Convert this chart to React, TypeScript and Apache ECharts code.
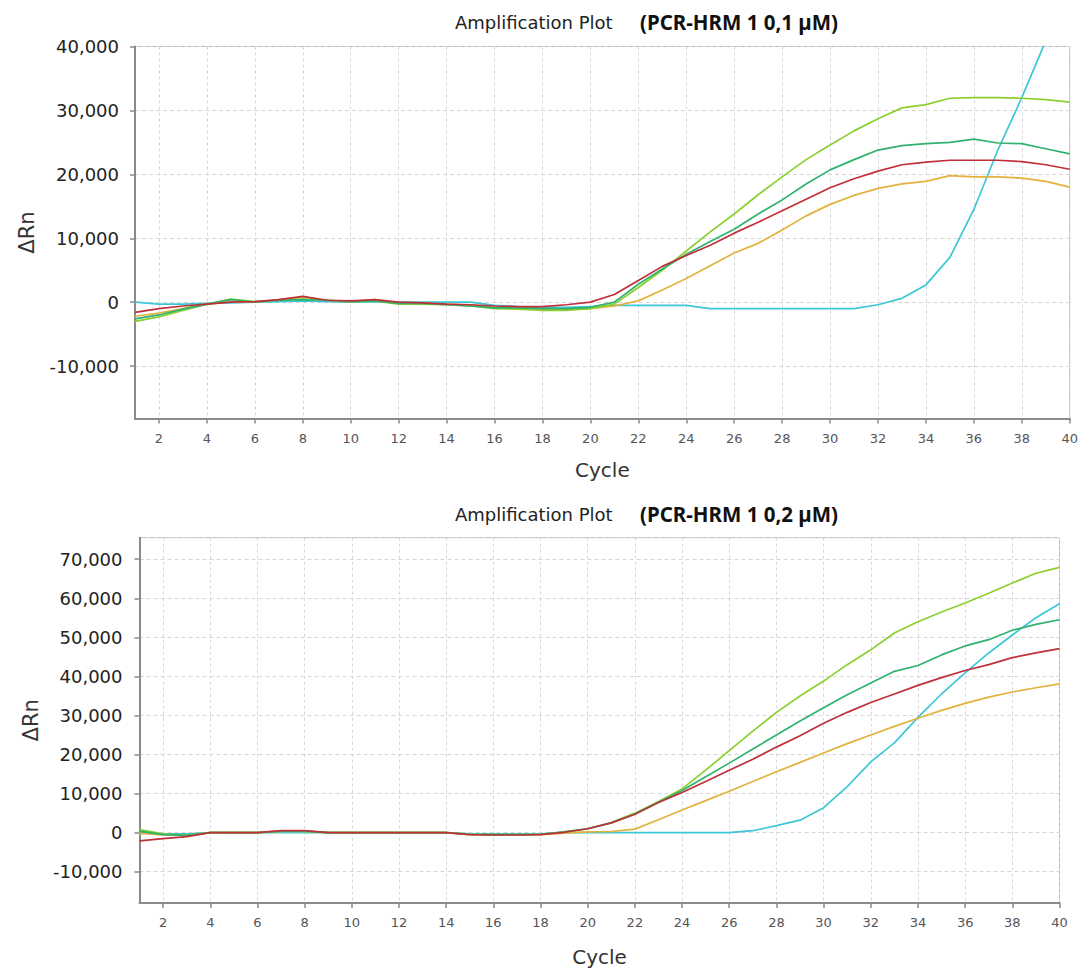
import React, { useEffect, useRef } from "react";
import * as echarts from "echarts";

const cycles = [
  "1", "2", "3", "4", "5", "6", "7", "8", "9", "10",
  "11", "12", "13", "14", "15", "16", "17", "18", "19", "20",
  "21", "22", "23", "24", "25", "26", "27", "28", "29", "30",
  "31", "32", "33", "34", "35", "36", "37", "38", "39", "40",
];

const titleMain = "Amplification Plot";
const titleTop = "(PCR-HRM 1 0,1 µM)";
const titleBottom = "(PCR-HRM 1 0,2 µM)";

// ---- Top plot (0,1 µM) ----
const topLightGreen = [
  -3000, -2300, -1300, -300, 500, 100, 300, 500, 300, 100,
  200, -300, -300, -400, -600, -1000, -1100, -1300, -1300, -1000,
  -300, 2300, 5000, 8000, 11000, 13800, 16800, 19600, 22300, 24600,
  26800, 28700, 30400, 30900, 31900, 32000, 32000, 31900, 31700, 31300,
];
const topTeal = [
  -2600, -2000, -1100, -300, 400, 0, 300, 400, 300, 100,
  200, -200, -200, -400, -600, -900, -900, -1000, -1000, -800,
  0, 2800, 5200, 7500, 9500, 11400, 13800, 16000, 18500, 20700,
  22300, 23800, 24500, 24800, 25000, 25500, 24900, 24800, 24000, 23200,
];
const topRed = [
  -1600, -1000, -600, -300, 0, 100, 400, 900, 300, 200,
  400, 0, -100, -300, -400, -600, -700, -700, -400, 0,
  1200, 3400, 5600, 7300, 8900, 10800, 12500, 14300, 16100, 17900,
  19300, 20500, 21500, 21900, 22200, 22200, 22200, 22000, 21500, 20800,
];
const topYellow = [
  -2200, -1700, -1000, -300, 100, 0, 400, 800, 300, 100,
  400, -100, -200, -300, -500, -800, -900, -1100, -1100, -1000,
  -600, 200, 1900, 3700, 5700, 7700, 9200, 11300, 13500, 15300,
  16700, 17800, 18500, 18900, 19800, 19600, 19600, 19400, 18900, 18000,
];
const topCyan = [
  0, -300, -300, -200, -100, 0, 100, 200, 100, 0,
  100, 0, 0, 0, 0, -500, -700, -800, -800, -700,
  -500, -500, -500, -500, -1000, -1000, -1000, -1000, -1000, -1000,
  -1000, -400, 600, 2700, 7000, 14500, 23800, 32000, 40900, 49000,
];

// ---- Bottom plot (0,2 µM) ----
const botLightGreen = [
  800, -300, -700, 0, 0, 0, 400, 400, 0, 0,
  0, 0, 0, 0, -400, -500, -500, -400, 200, 1000,
  2600, 5000, 8000, 11200, 16000, 21000, 26000, 30800, 35000, 38800,
  43000, 46800, 51100, 54000, 56500, 58800, 61300, 63900, 66400, 67900,
];
const botTeal = [
  400, -500, -700, 0, 0, 0, 400, 400, 0, 0,
  0, 0, 0, 0, -400, -500, -500, -400, 200, 1000,
  2500, 4800, 7800, 10800, 14300, 17800, 21400, 25000, 28600, 32000,
  35300, 38300, 41300, 42800, 45500, 47800, 49400, 51800, 53300, 54500,
];
const botRed = [
  -2100, -1500, -1000, 0, 0, 0, 500, 500, 0, 0,
  0, 0, 0, 0, -500, -600, -600, -500, 100, 1000,
  2500, 4700, 7700, 10300, 13100, 16000, 18800, 21900, 24800, 28000,
  30800, 33300, 35500, 37700, 39700, 41500, 43000, 44800, 46000, 47100,
];
const botYellow = [
  -200, -600, -600, 0, 0, 0, 300, 300, 0, 0,
  0, 0, 0, 0, -500, -600, -600, -500, -100, 200,
  300, 900, 3300, 5800, 8200, 10600, 13100, 15600, 18000, 20400,
  22800, 25000, 27200, 29300, 31300, 33100, 34700, 36000, 37100, 38100,
];
const botCyan = [
  0, -300, -300, 0, 0, 0, 0, 0, 0, 0,
  0, 0, 0, 0, -300, -300, -300, -300, 0, 0,
  0, 0, 0, 0, 0, 0, 500, 1800, 3200, 6400,
  11800, 18100, 23000, 29500, 35500, 40900, 46000, 50600, 55000, 58600,
];

const C_LG = "#8ccf2e";
const C_TEAL = "#2fb26e";
const C_RED = "#c0303a";
const C_YEL = "#e2b23c";
const C_CYAN = "#3cc7d6";

const evenOnly = (index: number) => index % 2 === 1;

const FONT = "DejaVu Sans";

function xAxisCfg(gridIndex: number, nameGap: number) {
  return {
    type: "category",
    gridIndex,
    data: cycles,
    boundaryGap: false,
    axisLine: { show: true, onZero: false, lineStyle: { color: "#8a8a8a", width: 2 } },
    axisTick: {
      show: true,
      interval: evenOnly,
      length: 5,
      lineStyle: { color: "#8a8a8a", width: 1.5 },
    },
    axisLabel: {
      interval: evenOnly,
      color: "#555",
      fontFamily: FONT,
      fontSize: 13,
      margin: 13,
    },
    splitLine: {
      show: true,
      interval: evenOnly,
      lineStyle: { color: "#d6d6d6", type: [3, 3], width: 1 },
    },
    name: "Cycle",
    nameLocation: "middle",
    nameGap,
    nameTextStyle: { fontFamily: FONT, fontSize: 20, color: "#333" },
  };
}

function yAxisCfg(gridIndex: number, min: number, max: number, margin: number) {
  return {
    type: "value",
    gridIndex,
    min,
    max,
    minInterval: 10000,
    maxInterval: 10000,
    axisLine: { show: true, onZero: false, lineStyle: { color: "#8a8a8a", width: 2 } },
    axisTick: { show: true, length: 5, lineStyle: { color: "#8a8a8a", width: 1.5 } },
    axisLabel: {
      showMinLabel: false,
      showMaxLabel: max % 10000 === 0,
      color: "#222",
      fontFamily: FONT,
      fontSize: 18,
      margin,
    },
    splitLine: {
      show: true,
      lineStyle: { color: "#d6d6d6", type: [4, 3], width: 1 },
    },
    name: "ΔRn",
    nameLocation: "middle",
    nameRotate: 90,
    nameGap: 98,
    nameTextStyle: { fontFamily: FONT, fontSize: 21, color: "#333" },
  };
}

function lineSeries(name: string, data: number[], color: string, idx: number, z: number) {
  return {
    type: "line",
    name,
    data,
    xAxisIndex: idx,
    yAxisIndex: idx,
    showSymbol: false,
    symbol: "none",
    silent: true,
    z,
    lineStyle: { color, width: 1.7 },
    itemStyle: { color },
  };
}

function titleTexts(y: number, sub: string) {
  return [
    {
      type: "text",
      x: 455,
      y,
      style: {
        text: titleMain,
        fontFamily: FONT,
        fontSize: 18,
        fill: "#222",
        verticalAlign: "middle",
      },
    },
    {
      type: "text",
      x: 640,
      y,
      style: {
        text: sub,
        fontFamily: "Noto Sans",
        fontWeight: "bold",
        fontSize: 20.5,
        fill: "#111",
        verticalAlign: "middle",
      },
    },
  ];
}

export default function App() {
  const ref = useRef<HTMLDivElement>(null);

  useEffect(() => {
    if (!ref.current) return;
    const chart = echarts.init(ref.current, undefined, { renderer: "svg" });
    chart.setOption({
      animation: false,
      backgroundColor: "#ffffff",
      grid: [
        {
          left: 135,
          right: 11,
          top: 46.5,
          height: 372,
          show: true,
          borderColor: "#b8b8b8",
          borderWidth: 1,
          backgroundColor: "transparent",
        },
        {
          left: 139.5,
          right: 21.5,
          top: 537.7,
          height: 366.3,
          show: true,
          borderColor: "#b8b8b8",
          borderWidth: 1,
          backgroundColor: "transparent",
        },
      ],
      xAxis: [xAxisCfg(0, 41), xAxisCfg(1, 44)],
      yAxis: [yAxisCfg(0, -18200, 40000, 16), yAxisCfg(1, -18000, 75500, 17)],
      series: [
        lineSeries("Cyan", topCyan, C_CYAN, 0, 2),
        lineSeries("Yellow", topYellow, C_YEL, 0, 3),
        lineSeries("Light green", topLightGreen, C_LG, 0, 4),
        lineSeries("Teal", topTeal, C_TEAL, 0, 5),
        lineSeries("Red", topRed, C_RED, 0, 6),
        lineSeries("Cyan", botCyan, C_CYAN, 1, 2),
        lineSeries("Yellow", botYellow, C_YEL, 1, 3),
        lineSeries("Light green", botLightGreen, C_LG, 1, 4),
        lineSeries("Teal", botTeal, C_TEAL, 1, 5),
        lineSeries("Red", botRed, C_RED, 1, 6),
      ],
      graphic: [...titleTexts(22, titleTop), ...titleTexts(514, titleBottom)],
    });
    return () => {
      chart.dispose();
    };
  }, []);

  return (
    <div
      ref={ref}
      style={{
        position: "absolute",
        left: 0,
        top: 0,
        width: 1081,
        height: 968,
        background: "#fff",
      }}
    />
  );
}
